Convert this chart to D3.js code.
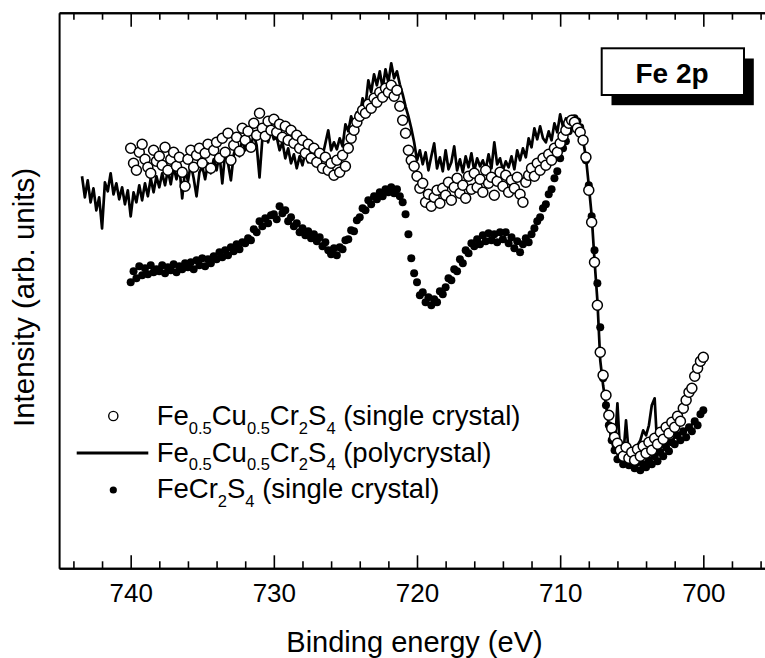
<!DOCTYPE html>
<html><head><meta charset="utf-8">
<script src="https://cdn.jsdelivr.net/npm/d3@7"></script>
<style>
html,body{margin:0;padding:0;background:#fff;}
svg{display:block;font-family:"Liberation Sans",Arial,Helvetica,sans-serif;}
</style></head><body>
<svg id="chart" width="765" height="658"></svg>
<script>
// ---------------- data ----------------
const xDomain = [745, 695];
const yDomain = [0, 555.6];
const majorTicks = [740, 730, 720, 710, 700];
const majorTickLabels = ["740", "730", "720", "710", "700"];
const minorTicks = [744, 742, 738, 736, 734, 732, 728, 726, 724, 722, 718, 716, 714, 712, 708, 706, 704, 702, 698, 696];

// Fe0.5Cu0.5Cr2S4 polycrystal (solid line), energy grid start / step (eV)
const polyStart = 743.4, polyStep = 0.2;
const polyValues = [
392,371,388,366,380,358,371,340,386,377,
395,374,385,369,381,364,378,352,376,366,
383,368,385,372,390,376,392,381,395,383,
398,384,401,389,402,370,399,387,404,390,
372,396,402,389,405,395,409,398,414,385,
416,405,388,414,424,412,430,418,433,422,
434,423,391,430,436,426,438,429,431,418,
426,410,420,405,414,400,412,403,416,406,
418,408,415,404,412,425,438,418,426,419,
430,422,444,437,452,443,456,452,470,462,
488,476,494,483,497,480,499,486,505,490,
497,484,474,462,452,440,426,408,418,404,
416,398,412,425,400,411,397,418,399,406,
422,398,409,396,412,401,415,397,410,402,
408,399,414,400,426,404,410,398,407,401,
412,399,418,408,420,411,430,421,440,429,
442,430,426,437,428,445,436,454,441,450,
448,452,445,446,438,428,411,383,353,308,
268,208,183,163,143,128,116,165,113,110,
148,113,120,118,123,128,138,133,143,163,
170,116,120,124,121,128,126,132,130,136,
134,140,139,144,146];

// Fe0.5Cu0.5Cr2S4 single crystal (open circles)
const cuStart = 740.0, cuStep = 0.2;
const cuValues = [
420,405,398,416,424,409,401,395,418,407,
412,403,421,398,409,416,402,411,396,382,
409,418,401,413,420,405,415,424,400,418,
426,410,430,416,435,408,423,431,417,440,
428,437,421,445,433,455,440,432,447,438,
449,436,444,431,442,428,438,425,433,420,
428,415,424,410,420,406,415,400,411,398,
405,393,408,396,413,402,420,430,438,446,
452,458,455,464,460,470,466,476,471,480,
476,483,472,478,462,448,435,418,408,402,
392,380,385,366,374,362,371,378,365,380,
373,386,368,381,390,375,383,370,392,379,
395,381,389,376,398,385,391,373,387,396,
382,393,376,388,380,391,374,366,386,393,
400,392,405,398,410,403,414,408,420,416,
425,432,438,445,448,446,440,436,428,411,
378,346,306,263,216,193,173,153,140,131,
125,118,112,121,110,116,108,119,112,122,
115,126,118,130,124,136,129,141,135,146,
141,152,147,160,168,176,180,192,200,207,
211];

// FeCr2S4 single crystal (filled circles)
const feStart = 740.0, feStep = 0.2;
const feValues = [
286,297,290,302,293,300,294,303,296,299,
297,303,295,301,298,304,296,302,299,305,
301,306,299,308,303,310,302,309,305,312,
309,316,311,318,313,321,317,324,319,326,
325,330,328,339,336,347,342,350,345,353,
354,349,362,355,358,347,351,342,345,336,
340,333,337,330,334,327,331,322,326,318,
314,320,313,321,319,328,329,338,337,348,
351,360,358,368,364,372,369,376,372,379,
376,381,375,379,372,366,354,334,310,295,
286,273,276,266,271,263,269,266,277,274,
281,290,288,299,297,309,305,318,315,325,
322,329,324,333,327,335,328,334,326,336,
329,336,325,331,320,327,316,324,330,326,
334,340,347,351,360,364,374,379,390,397,
410,420,427,437,442,450,447,441,429,408,
383,352,318,285,241,190,163,143,128,118,
109,114,104,111,103,108,100,106,98,104,
101,108,104,112,107,116,112,121,117,126,
124,133,128,137,131,141,137,147,143,154,
158];

const legendLabels = [
  [["Fe",0],["0.5",1],["Cu",0],["0.5",1],["Cr",0],["2",1],["S",0],["4",1],[" (single crystal)",0]],
  [["Fe",0],["0.5",1],["Cu",0],["0.5",1],["Cr",0],["2",1],["S",0],["4",1],[" (polycrystal)",0]],
  [["FeCr",0],["2",1],["S",0],["4",1],[" (single crystal)",0]]
];
const xTitle = "Binding energy (eV)";
const yTitle = "Intensity (arb. units)";
const panelLabel = "Fe 2p";

// ---------------- chart ----------------
const toPoints = (start, step, vals) => vals.map((v, i) => ({e: +(start - i * step).toFixed(2), v}));
const poly = toPoints(polyStart, polyStep, polyValues);
const cu = toPoints(cuStart, cuStep, cuValues);
const fe = toPoints(feStart, feStep, feValues);

const svg = d3.select("#chart");
const L = 59.1, R = 774.9, T = 12.7, B = 568.3;
const x = d3.scaleLinear().domain(xDomain).range([L, R]);
const y = d3.scaleLinear().domain(yDomain).range([B, T]);

// plot data
const plot = svg.append("g");
plot.selectAll("circle.fe").data(fe).join("circle").attr("class","fe")
  .attr("cx", d => x(d.e)).attr("cy", d => y(d.v)).attr("r", 4).attr("fill", "#000");
plot.append("path").datum(poly)
  .attr("d", d3.line().x(d => x(d.e)).y(d => y(d.v)))
  .attr("fill", "none").attr("stroke", "#000").attr("stroke-width", 2.7).attr("stroke-linejoin","round");
plot.selectAll("circle.cu").data(cu).join("circle").attr("class","cu")
  .attr("cx", d => x(d.e)).attr("cy", d => y(d.v)).attr("r", 5)
  .attr("fill", "#fff").attr("stroke", "#000").attr("stroke-width", 1.5);

// axes
function styleAxis(g) {
  g.select(".domain").attr("stroke", "#000").attr("stroke-width", 2);
  g.selectAll(".tick line").attr("stroke", "#000").attr("stroke-width", 1.6);
  g.selectAll("text").attr("fill", "#000").attr("font-size", 26)
    .attr("font-family", '"Liberation Sans", Arial, sans-serif');
}
const bottomMajor = svg.append("g").attr("transform", `translate(0,${B})`)
  .call(d3.axisBottom(x).tickValues(majorTicks).tickFormat((d, i) => majorTickLabels[i])
    .tickSizeInner(-13).tickSizeOuter(0).tickPadding(15.5));
styleAxis(bottomMajor);
const bottomMinor = svg.append("g").attr("transform", `translate(0,${B})`)
  .call(d3.axisBottom(x).tickValues(minorTicks).tickFormat("").tickSizeInner(-7).tickSizeOuter(0));
styleAxis(bottomMinor);
const topMajor = svg.append("g").attr("transform", `translate(0,${T})`)
  .call(d3.axisTop(x).tickValues(majorTicks).tickFormat("").tickSizeInner(-14).tickSizeOuter(0));
styleAxis(topMajor);
const topMinor = svg.append("g").attr("transform", `translate(0,${T})`)
  .call(d3.axisTop(x).tickValues(minorTicks).tickFormat("").tickSizeInner(-7).tickSizeOuter(0));
styleAxis(topMinor);
const leftAx = svg.append("g").attr("transform", `translate(${L},0)`)
  .call(d3.axisLeft(y).tickValues([]).tickSizeOuter(0));
styleAxis(leftAx);

// titles
svg.append("text").attr("x", 414.5).attr("y", 652).attr("text-anchor", "middle")
  .attr("font-size", 29).attr("fill", "#000").text(xTitle);
svg.append("text").attr("transform", "translate(33.5,297.5) rotate(-90)").attr("text-anchor", "middle")
  .attr("font-size", 29.5).attr("fill", "#000").text(yTitle);

// Fe 2p box
svg.append("rect").attr("x", 611.5).attr("y", 58.5).attr("width", 142.3).attr("height", 46.7).attr("fill", "#000");
svg.append("rect").attr("x", 601.7).attr("y", 48.3).attr("width", 142.3).attr("height", 46.7)
  .attr("fill", "#fff").attr("stroke", "#000").attr("stroke-width", 2);
svg.append("text").attr("x", 672).attr("y", 82.7).attr("text-anchor", "middle")
  .attr("font-size", 28).attr("font-weight", "bold").attr("fill", "#000").text(panelLabel);

// legend
const lg = svg.append("g");
lg.append("circle").attr("cx", 113.3).attr("cy", 416).attr("r", 4.6)
  .attr("fill", "#fff").attr("stroke", "#000").attr("stroke-width", 1.4);
lg.append("line").attr("x1", 76.7).attr("x2", 148.3).attr("y1", 453).attr("y2", 453)
  .attr("stroke", "#000").attr("stroke-width", 3);
lg.append("circle").attr("cx", 113.3).attr("cy", 490).attr("r", 3.6).attr("fill", "#000");
const baselines = [425, 461.7, 498.3];
legendLabels.forEach((segs, i) => {
  const t = lg.append("text").attr("x", 156.7).attr("y", baselines[i]).attr("font-size", 27.5).attr("fill", "#000");
  let shifted = false;
  segs.forEach(([s, sub]) => {
    const ts = t.append("tspan").text(s);
    if (sub && !shifted) { ts.attr("dy", 8.5).attr("font-size", 16.5); shifted = true; }
    else if (sub) { ts.attr("font-size", 16.5); }
    else if (shifted) { ts.attr("dy", -8.5); shifted = false; }
  });
});
</script>
</body></html>
